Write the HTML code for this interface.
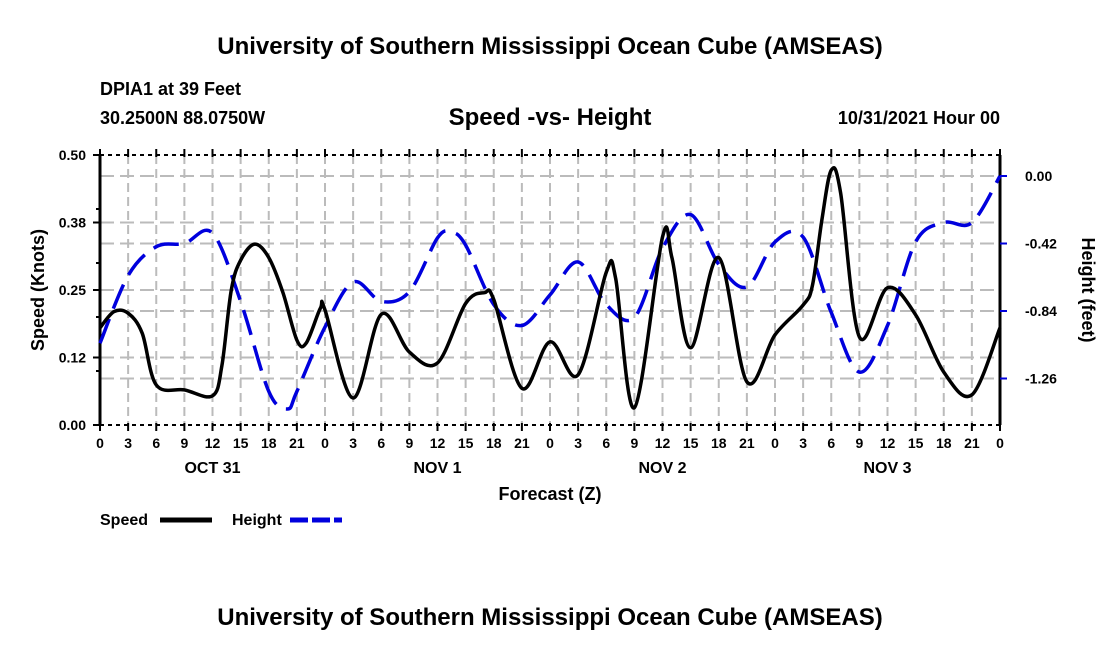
<!DOCTYPE html>
<html><head><meta charset="utf-8"><style>
body{margin:0;background:#fff}
svg text{font-family:"Liberation Sans",Arial,sans-serif;font-weight:bold;fill:#000}
</style></head><body>
<svg id="chart" width="1100" height="650">
<text x="550" y="54" font-size="24" text-anchor="middle">University of Southern Mississippi Ocean Cube (AMSEAS)</text>
<text x="100" y="95" font-size="18">DPIA1 at 39 Feet</text>
<text x="100" y="124" font-size="18">30.2500N  88.0750W</text>
<text x="550" y="125" font-size="24" text-anchor="middle">Speed -vs- Height</text>
<text x="1000" y="124" font-size="18" text-anchor="end">10/31/2021 Hour 00</text>
<g id="grid"></g>
<g id="axes"></g>
<path id="heightLine" fill="none" stroke="#0000dd" stroke-width="3.5" stroke-dasharray="26,11"/>
<path id="speedLine" fill="none" stroke="#000" stroke-width="3.5"/>
<text transform="translate(44,290) rotate(-90)" font-size="18" text-anchor="middle">Speed (Knots)</text>
<text transform="translate(1082,290) rotate(90)" font-size="18" text-anchor="middle">Height (feet)</text>
<text x="550" y="500" font-size="18" text-anchor="middle">Forecast (Z)</text>
<text x="100" y="525" font-size="16">Speed</text>
<line x1="160" y1="520" x2="212" y2="520" stroke="#000" stroke-width="5"/>
<text x="232" y="525" font-size="16">Height</text>
<line x1="290" y1="520" x2="342" y2="520" stroke="#0000dd" stroke-width="5" stroke-dasharray="18,4"/>
<text x="550" y="625" font-size="24" text-anchor="middle">University of Southern Mississippi Ocean Cube (AMSEAS)</text>
</svg>
<script>
const speedHours=[0,1.5,3,4.5,6,9,12,13,14,15,16.5,18,19.5,21,22,23.5,24,27,30,33,36,39,41,42,45,48,51,54,55,57,60,61,63,66,69,72,75,76,77,78,79,81,84,87,90,93,96];
const speedValues=[0.18,0.21,0.207,0.17,0.074,0.065,0.054,0.11,0.25,0.305,0.335,0.31,0.246,0.157,0.152,0.216,0.213,0.05,0.205,0.135,0.115,0.225,0.245,0.232,0.068,0.154,0.093,0.283,0.272,0.032,0.348,0.31,0.143,0.31,0.08,0.167,0.222,0.259,0.38,0.472,0.43,0.163,0.254,0.204,0.098,0.056,0.18];
const heightHours=[0,3,6,9,12,15,18,20,21,24,27,30,33,36,37.5,39,42,45,48,51,54,57,60,63,66,69,72,75,78,81,84,87,90,93,96];
const heightValues=[-1.04,-0.62,-0.44,-0.42,-0.355,-0.78,-1.34,-1.45,-1.34,-0.94,-0.66,-0.78,-0.72,-0.385,-0.35,-0.43,-0.80,-0.93,-0.74,-0.535,-0.80,-0.88,-0.45,-0.24,-0.55,-0.69,-0.41,-0.38,-0.85,-1.22,-0.93,-0.41,-0.29,-0.29,0.0];
const speedTicks=["0.00","0.12","0.25","0.38","0.50"];
const speedTickVals=[0,0.125,0.25,0.375,0.5];
const heightTicks=["0.00","-0.42","-0.84","-1.26"];
const heightTickVals=[0,-0.42,-0.84,-1.26];
const hourLabels=["0","3","6","9","12","15","18","21"];
const dayLabels=["OCT 31","NOV 1","NOV 2","NOV 3"];

const L=100,R=1000,T=155,B=425;
const xS=h=>L+h*(R-L)/96;
const yS=v=>B-v*(B-T)/0.5;
function yHt(v){return 176+(-v)*(67.5/0.42);}
const NS="http://www.w3.org/2000/svg";
function mk(tag,attrs,parent,txt){const e=document.createElementNS(NS,tag);for(const k in attrs)e.setAttribute(k,attrs[k]);if(txt!==undefined)e.textContent=txt;parent.appendChild(e);return e;}
const grid=document.getElementById('grid'),axes=document.getElementById('axes');
for(let h=3;h<96;h+=3){const l=mk('line',{x1:xS(h),x2:xS(h),y1:T,y2:B,stroke:'#bbb','stroke-width':2,'stroke-dasharray':'9,5'},grid);

}
speedTickVals.slice(1,4).forEach(v=>{const l=mk('line',{x1:L,x2:R,y1:yS(v),y2:yS(v),stroke:'#bbb','stroke-width':2,'stroke-dasharray':'14,6'},grid);

});
heightTickVals.forEach(v=>{const l=mk('line',{x1:L,x2:R,y1:yHt(v),y2:yHt(v),stroke:'#bbb','stroke-width':2,'stroke-dasharray':'14,6'},grid);

});
mk('line',{x1:L,x2:L,y1:T,y2:B,stroke:'#000','stroke-width':3},axes);
mk('line',{x1:R,x2:R,y1:T,y2:B,stroke:'#000','stroke-width':3},axes);
mk('line',{x1:L,x2:R,y1:T,y2:T,stroke:'#000','stroke-width':2,'stroke-dasharray':'4,4'},axes);
mk('line',{x1:L,x2:R,y1:B,y2:B,stroke:'#000','stroke-width':2,'stroke-dasharray':'4,4'},axes);
for(let h=0;h<=96;h+=3){mk('line',{x1:xS(h),x2:xS(h),y1:B-2,y2:B+6,stroke:'#000','stroke-width':2},axes);
mk('line',{x1:xS(h),x2:xS(h),y1:T-6,y2:T+2,stroke:'#000','stroke-width':2},axes);
const t=mk('text',{x:xS(h),y:448,'font-size':14,'text-anchor':'middle'},axes,hourLabels[(h/3)%8]);

}
dayLabels.forEach((d,i)=>{const t=mk('text',{x:xS(12+24*i),y:473,'font-size':16,'text-anchor':'middle'},axes,d);

});
speedTickVals.forEach((v,i)=>{mk('line',{x1:L-7,x2:L,y1:yS(v),y2:yS(v),stroke:'#000','stroke-width':2},axes);
const t=mk('text',{x:L-14,y:yS(v)+5,'font-size':14,'text-anchor':'end'},axes,speedTicks[i]);

});
[0.1,0.2,0.3,0.4].forEach(v=>mk('line',{x1:L-4,x2:L,y1:yS(v),y2:yS(v),stroke:'#000','stroke-width':2},axes));
heightTickVals.forEach((v,i)=>{mk('line',{x1:R,x2:R+7,y1:yHt(v),y2:yHt(v),stroke:'#0000dd','stroke-width':2},axes);
const t=mk('text',{x:R+25,y:yHt(v)+5,'font-size':14},axes,heightTicks[i]);

});
function spline(pts){let d=`M${pts[0][0]},${pts[0][1]}`;for(let i=0;i<pts.length-1;i++){const p0=pts[Math.max(0,i-1)],p1=pts[i],p2=pts[i+1],p3=pts[Math.min(pts.length-1,i+2)];
const c1=[p1[0]+(p2[0]-p0[0])/6,p1[1]+(p2[1]-p0[1])/6],c2=[p2[0]-(p3[0]-p1[0])/6,p2[1]-(p3[1]-p1[1])/6];
d+=` C${c1[0].toFixed(1)},${c1[1].toFixed(1)} ${c2[0].toFixed(1)},${c2[1].toFixed(1)} ${p2[0].toFixed(1)},${p2[1].toFixed(1)}`;}return d;}
document.getElementById('speedLine').setAttribute('d',spline(speedHours.map((h,i)=>[xS(h),yS(speedValues[i])])));
document.getElementById('heightLine').setAttribute('d',spline(heightHours.map((h,i)=>[xS(h),yHt(heightValues[i])])));
</script>
</body></html>
